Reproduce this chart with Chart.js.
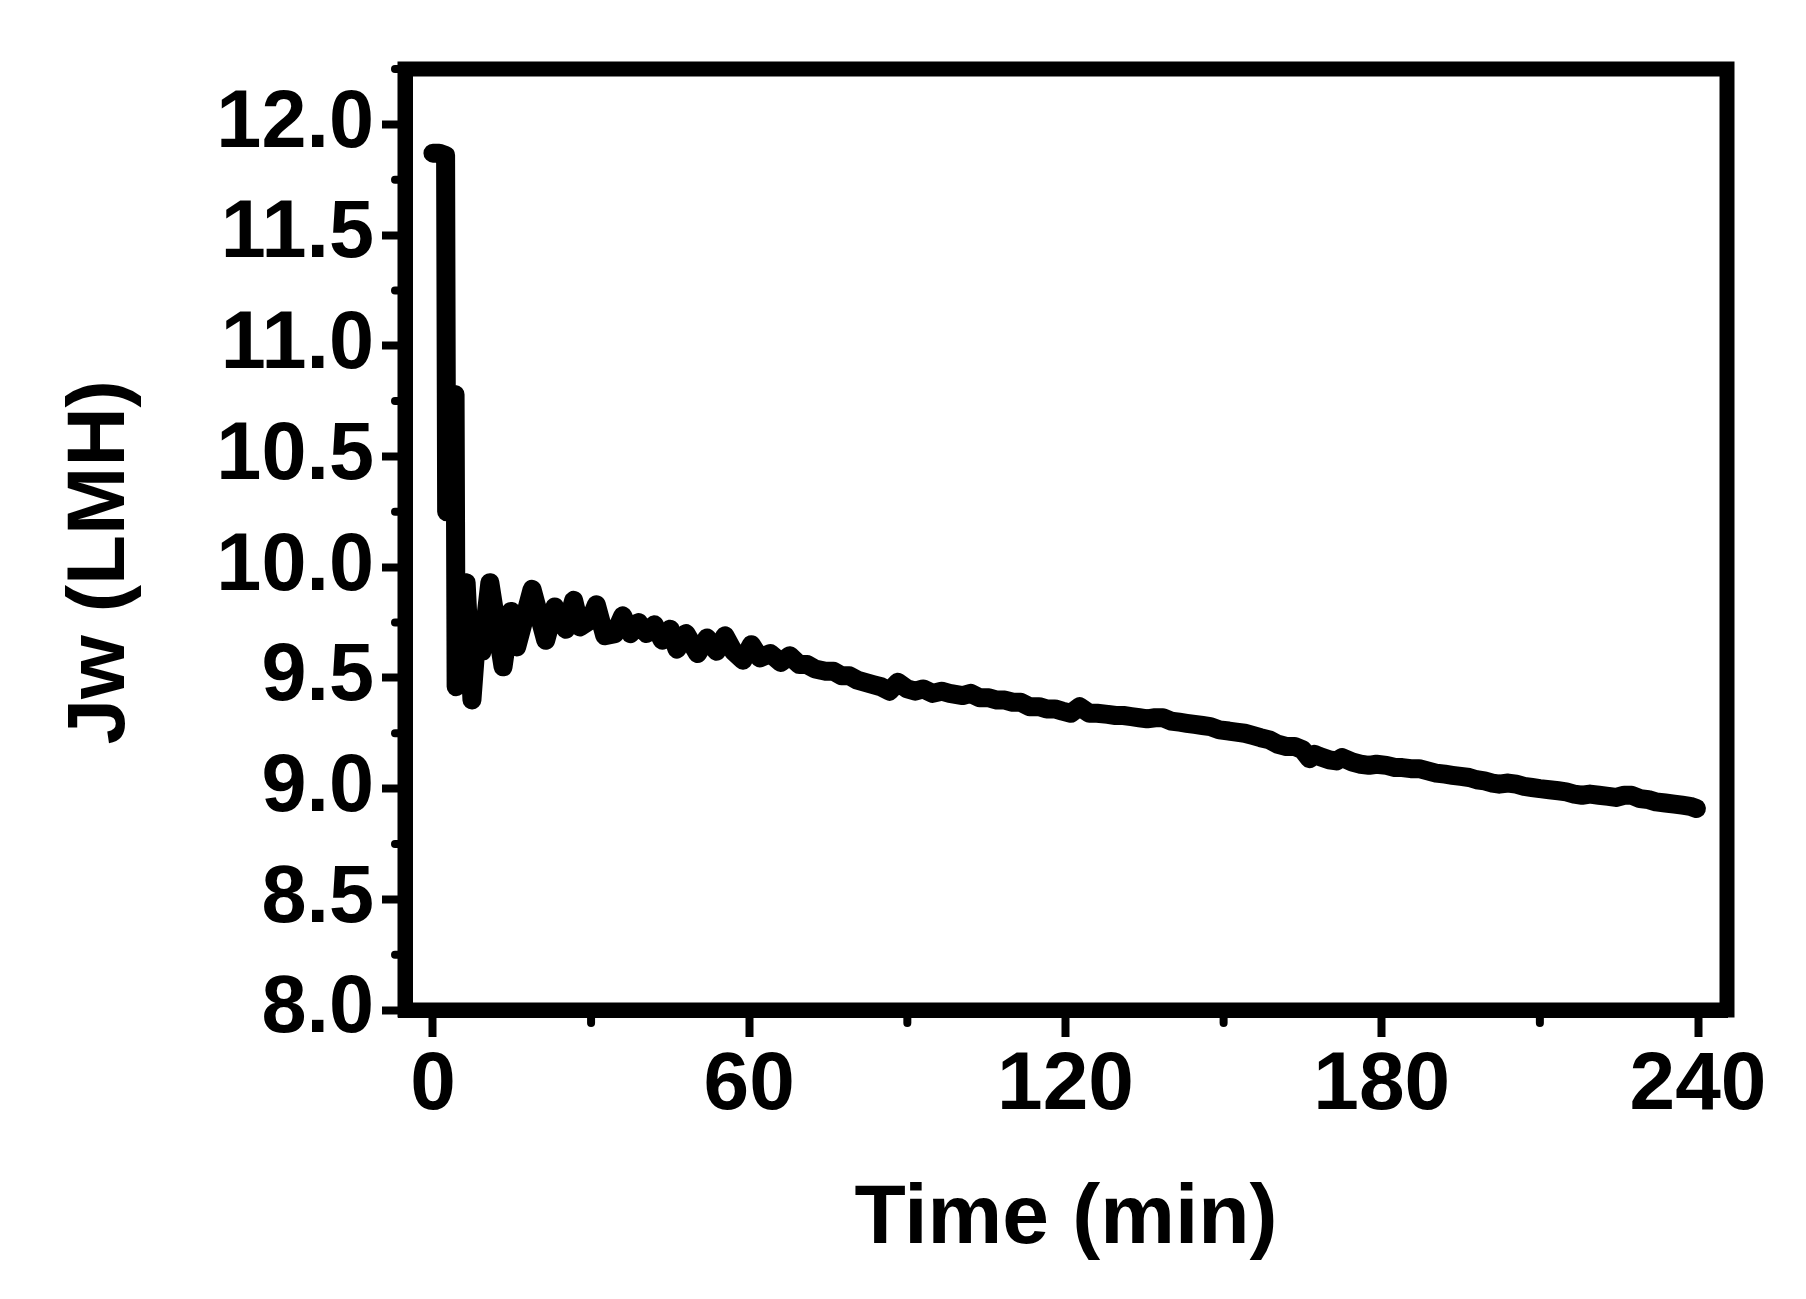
<!DOCTYPE html>
<html>
<head>
<meta charset="utf-8">
<title>Jw vs Time</title>
<script src="https://cdn.jsdelivr.net/npm/chart.js@4.4.1/dist/chart.umd.min.js"></script>
<style>
  html, body { margin: 0; padding: 0; background: #fff; }
  canvas { display: block; }
</style>
</head>
<body>
<canvas id="jwChart" width="1806" height="1299"></canvas>
<script>
// Jw (LMH) over time (min)
const timeMin = [
  0, 1.2, 2.4, 2.6, 4.2, 4.4, 6.3, 7.4, 8.4, 9.3,
  10.8, 13.3, 14.8, 15.9, 18.8, 21.4, 23.1, 25.2, 26.7, 27.9,
  29.8, 31.0, 32.6, 34.5, 36.0, 37.5, 39.0, 40.5, 42.0, 43.5,
  45.0, 46.3, 48.0, 50.2, 52.0, 53.8, 55.4, 57.0, 58.8, 60.4,
  62.0, 64.0, 66.0, 67.7, 69.5, 71.0, 72.5, 74.5, 76.0, 77.5,
  79.0, 80.5, 82.0, 83.5, 85.0, 86.6, 88.2, 90.0, 91.5, 93.0,
  94.8, 96.5, 98.0, 100.5, 102.0, 103.7, 105.5, 107.0, 108.5, 110.0,
  111.5, 113.2, 115.0, 116.4, 118.0, 119.4, 121.0, 122.7, 124.5, 126.0,
  128.0, 129.5, 131.0, 132.5, 134.0, 135.5, 137.0, 138.5, 140.0, 141.6,
  143.0, 144.5, 146.0, 147.5, 149.2, 151.0, 152.4, 154.0, 155.5, 157.0,
  158.7, 160.3, 161.9, 163.5, 165.0, 166.3, 167.2, 168.2, 170.0, 171.4,
  172.5, 174.4, 176.0, 177.6, 179.0, 180.9, 182.5, 183.9, 185.5, 187.1,
  188.7, 190.3, 192.0, 193.4, 195.0, 196.6, 198.0, 199.5, 201.0, 202.3,
  204.0, 205.5, 207.0, 208.5, 210.0, 211.8, 213.5, 215.0, 216.5, 218.0,
  219.5, 221.2, 223.0, 224.4, 226.0, 227.4, 229.0, 230.6, 232.0, 233.8,
  235.5, 237.0, 238.5, 239.7
];
const jwLMH = [
  11.87, 11.87, 11.86, 10.25, 10.78, 9.46, 9.93, 9.40, 9.72, 9.62,
  9.93, 9.55, 9.80, 9.64, 9.90, 9.67, 9.82, 9.72, 9.85, 9.73,
  9.76, 9.83, 9.69, 9.70, 9.78, 9.70, 9.75, 9.70, 9.74, 9.67,
  9.72, 9.63, 9.70, 9.61, 9.68, 9.62, 9.69, 9.62, 9.58, 9.65,
  9.59, 9.61, 9.57, 9.60, 9.56, 9.56, 9.54, 9.53, 9.53, 9.51,
  9.51, 9.49, 9.48, 9.47, 9.46, 9.44, 9.48, 9.45, 9.44, 9.45,
  9.43, 9.44, 9.43, 9.42, 9.43, 9.41, 9.41, 9.40, 9.40, 9.39,
  9.39, 9.37, 9.37, 9.36, 9.36, 9.35, 9.34, 9.37, 9.34, 9.34,
  9.335, 9.33, 9.33, 9.325, 9.32, 9.315, 9.32, 9.32, 9.305, 9.30,
  9.295, 9.29, 9.285, 9.28, 9.265, 9.26, 9.255, 9.25, 9.24, 9.23,
  9.22, 9.20, 9.19, 9.19, 9.175, 9.135, 9.155, 9.145, 9.13, 9.125,
  9.14, 9.12, 9.11, 9.105, 9.11, 9.105, 9.095, 9.095, 9.09, 9.09,
  9.08, 9.07, 9.065, 9.06, 9.055, 9.05, 9.04, 9.035, 9.025, 9.02,
  9.025, 9.02, 9.01, 9.005, 9.0, 8.995, 8.99, 8.985, 8.975, 8.97,
  8.975, 8.97, 8.965, 8.96, 8.97, 8.97, 8.955, 8.95, 8.94, 8.935,
  8.93, 8.925, 8.92, 8.91
];

// axis ranges and tick positions
const xMin = -5.3, xMax = 245.5, xStep = 60;
const yMin = 8.0, yMax = 12.25, yStep = 0.5;
const xMinorTicks = [30, 90, 150, 210];
const yMinorTicks = [8.25, 8.75, 9.25, 9.75, 10.25, 10.75, 11.25, 11.75, 12.25];

const FONT = "'Liberation Sans', Arial, Helvetica, sans-serif";

// frame on top/right + the short minor ticks
const frameAndMinor = {
  id: 'frameAndMinor',
  afterDraw(chart) {
    const { ctx, chartArea: a, scales: { x, y } } = chart;
    ctx.save();
    ctx.strokeStyle = '#000';
    ctx.lineWidth = 15;
    ctx.lineJoin = 'miter';
    ctx.strokeRect(a.left, a.top, a.right - a.left, a.bottom - a.top);

    ctx.lineWidth = 8;
    ctx.lineCap = 'round';
    for (const v of yMinorTicks) {
      const py = y.getPixelForValue(v);
      ctx.beginPath(); ctx.moveTo(a.left - 7, py); ctx.lineTo(a.left - 10, py); ctx.stroke();
    }
    for (const v of xMinorTicks) {
      const px = x.getPixelForValue(v);
      ctx.beginPath(); ctx.moveTo(px, a.bottom + 7); ctx.lineTo(px, a.bottom + 13); ctx.stroke();
    }
    ctx.restore();
  }
};

new Chart(document.getElementById('jwChart'), {
  type: 'scatter',
  data: {
    datasets: [{
      label: 'Jw',
      data: timeMin.map((t, i) => ({ x: t, y: jwLMH[i] })),
      showLine: true,
      borderColor: '#000',
      borderWidth: 19,
      borderCapStyle: 'round',
      borderJoinStyle: 'round',
      pointRadius: 0,
      tension: 0
    }]
  },
  options: {
    responsive: false,
    animation: false,
    devicePixelRatio: 1,
    layout: { padding: { top: 69, right: 79, left: 0, bottom: 0 } },
    plugins: { legend: { display: false }, tooltip: { enabled: false } },
    scales: {
      x: {
        type: 'linear',
        min: xMin, max: xMax,
        afterFit: s => { s.height = 289; },
        border: { display: true, width: 15, color: '#000' },
        grid: { drawOnChartArea: false, drawTicks: true, tickLength: 27, tickWidth: 8, tickColor: '#000' },
        ticks: {
          stepSize: xStep, includeBounds: false, autoSkip: false, maxRotation: 0,
          color: '#000', padding: 8,
          font: { family: FONT, size: 82, weight: 'bold', lineHeight: 1 }
        },
        title: {
          display: true, text: 'Time (min)', color: '#000',
          padding: { top: 0, bottom: 29 },
          font: { family: FONT, size: 84, weight: 'bold', lineHeight: 1.2 }
        }
      },
      y: {
        type: 'linear',
        min: yMin, max: yMax,
        afterFit: s => { s.width = 405; },
        border: { display: true, width: 15, color: '#000' },
        grid: { drawOnChartArea: false, drawTicks: true, tickLength: 23, tickWidth: 8, tickColor: '#000' },
        ticks: {
          stepSize: yStep, includeBounds: false, autoSkip: false,
          color: '#000', padding: 8,
          callback: v => v.toFixed(1),
          font: { family: FONT, size: 81, weight: 'bold', lineHeight: 1 }
        },
        title: {
          display: true, text: 'Jw (LMH)  ', color: '#000',
          padding: { top: 52, bottom: 0 },
          font: { family: FONT, size: 82, weight: 'bold', lineHeight: 1.2 }
        }
      }
    }
  },
  plugins: [frameAndMinor]
});
</script>
</body>
</html>
